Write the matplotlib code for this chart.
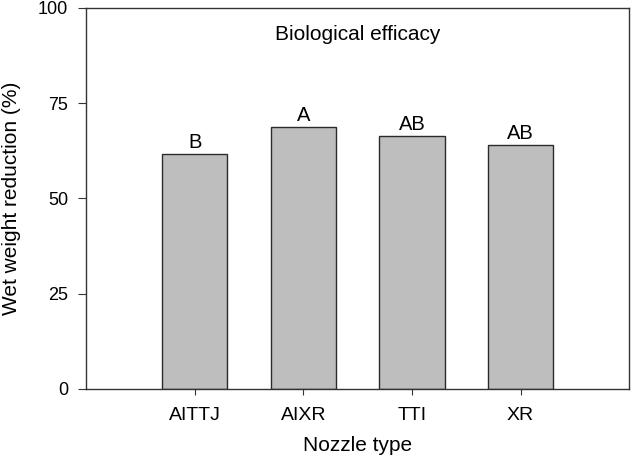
import numpy as np
import matplotlib.pyplot as plt

plt.rcParams['font.family'] = ['Liberation Sans', 'DejaVu Sans']

# data
nozzles = ['AITTJ', 'AIXR', 'TTI', 'XR']
reduction = [61.7, 68.8, 66.4, 64.0]
letters = ['B', 'A', 'AB', 'AB']

fig = plt.figure(figsize=(6.33, 4.57), dpi=100)
ax = fig.add_axes([0.136, 0.149, 0.858, 0.834])

x = np.arange(1, len(nozzles) + 1)
bars = ax.bar(x, reduction, width=0.6, color='#bebebe', edgecolor='#2b2b2b', linewidth=1.0)

# significance letters above the bars
for xi, val, lab in zip(x, reduction, letters):
    ax.annotate(lab, (xi, val), xytext=(0, 1.5), textcoords='offset points',
                ha='center', va='bottom', fontsize=14.5)

ax.set_xlim(0, 5)
ax.set_ylim(0, 100)
ax.set_xticks(x)
ax.set_xticklabels(nozzles, fontsize=14)
ax.set_yticks([0, 25, 50, 75, 100])
ax.tick_params(axis='y', labelsize=13, length=6, color='#333333', pad=7)
ax.tick_params(axis='x', length=4, color='#333333', pad=9)

ax.set_xlabel('Nozzle type', fontsize=15, labelpad=9)
ax.set_ylabel('Wet weight reduction (%)', fontsize=15, labelpad=12)
ax.text(0.5, 0.929, 'Biological efficacy', transform=ax.transAxes,
        ha='center', va='center', fontsize=15)

for s in ax.spines.values():
    s.set_color('#333333')
    s.set_linewidth(1.0)

fig.savefig('out.png', dpi=100)
